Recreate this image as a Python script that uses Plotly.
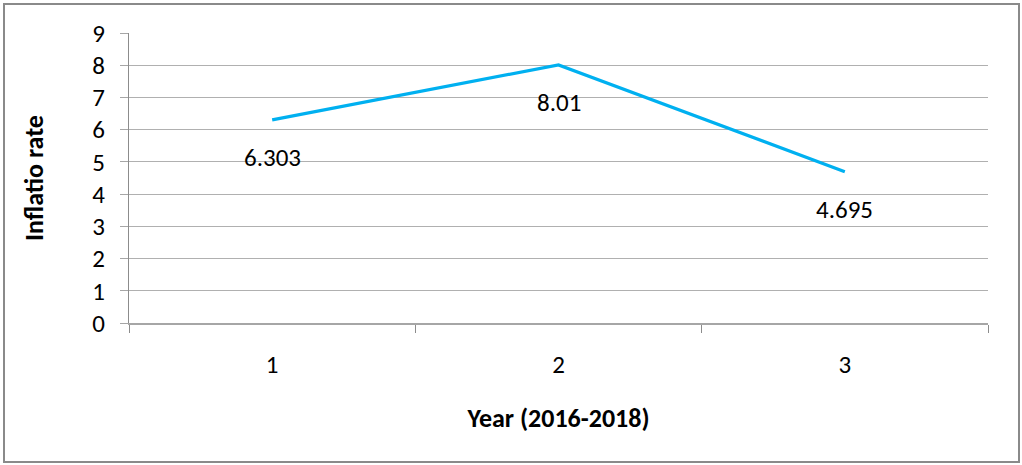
import plotly.graph_objects as go

years = ["1", "2", "3"]
inflation = [6.303, 8.01, 4.695]
label_text = ["6.303", "8.01", "4.695"]
y_ticks = [0, 1, 2, 3, 4, 5, 6, 7, 8, 9]

FONT = "Carlito, Lato, sans-serif"

fig = go.Figure()
fig.add_trace(go.Scatter(
    x=years, y=inflation, mode="lines",
    line=dict(color="#00B0F0", width=3.2),
    hoverinfo="skip", showlegend=False,
))

for i, (yv, t) in enumerate(zip(inflation, label_text)):
    fig.add_annotation(x=i, y=yv, text=t, showarrow=False, yshift=-38,
                       font=dict(family=FONT, size=25, color="#000000"))

fig.update_layout(
    width=1022, height=465,
    margin=dict(l=129, r=34, t=33, b=142),
    paper_bgcolor="white", plot_bgcolor="white",
    font=dict(family=FONT, size=25, color="#000000"),
    xaxis=dict(
        type="category", tickson="boundaries", range=[-0.5, 2.5],
        ticks="outside", ticklen=8, tickcolor="#8c8c8c", tickwidth=1,
        showgrid=False, showline=True, linecolor="#a6a6a6", linewidth=2,
        ticklabelstandoff=18,
        title=dict(text="<b>Year (2016-2018)</b>", standoff=30,
                   font=dict(family=FONT, size=26)),
        zeroline=False,
    ),
    yaxis=dict(
        range=[0, 9], tickvals=y_ticks, ticks="outside", ticklen=8,
        tickcolor="#a6a6a6", tickwidth=1,
        showgrid=True, gridcolor="#b0b0b0", gridwidth=1.3,
        showline=True, linecolor="#8c8c8c", linewidth=1,
        zeroline=False, ticklabelstandoff=10,
        title=dict(text="<b>Inflatio rate</b>", standoff=41,
                   font=dict(family=FONT, size=26)),
    ),
    shapes=[dict(type="rect", xref="paper", yref="paper",
                 x0=(4 - 129) / 859, x1=(1019 - 129) / 859,
                 y0=(323 - 462) / 290, y1=(323 - 4) / 290,
                 line=dict(color="#8a8a8a", width=2), fillcolor="rgba(0,0,0,0)",
                 layer="below")],
)

fig.write_html("out.html")
